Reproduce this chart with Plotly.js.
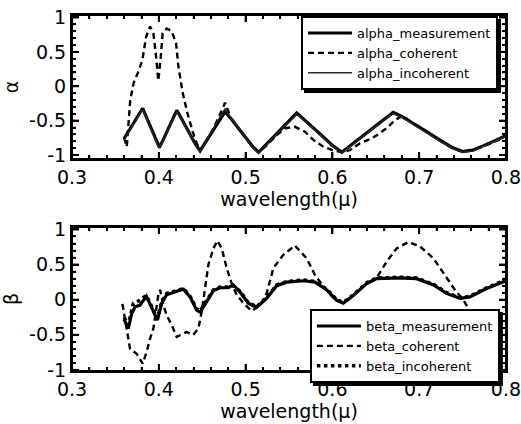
<!DOCTYPE html>
<html>
<head>
<meta charset="utf-8">
<script src="https://cdn.plot.ly/plotly-3.0.1.min.js"></script>
<style>html,body{margin:0;padding:0;background:#fff;}#chart{width:521px;height:424px;}</style>
</head>
<body>
<div id="chart"></div>
<script>
// ---- data ----
const xTickVals = [0.3, 0.4, 0.5, 0.6, 0.7, 0.8];
const xTickText = ['0.3', '0.4', '0.5', '0.6', '0.7', '0.8'];
const yTickVals = [-1, -0.5, 0, 0.5, 1];
const yTickText = ['-1', '-0.5', '0', '0.5', '1'];
const xMinorStep = 0.02;
const yMinorStep = 0.1;

const alphaMeasX = [0.360,0.366,0.372,0.378,0.3814,0.386,0.392,0.397,0.4006,0.405,0.412,0.4206,0.427,0.435,0.442,0.4475,0.452,0.460,0.468,0.4763,0.483,0.492,0.502,0.509,0.515,0.521,0.530,0.540,0.550,0.5588,0.566,0.576,0.588,0.600,0.611,0.622,0.636,0.650,0.662,0.670,0.680,0.695,0.710,0.725,0.738,0.750,0.762,0.775,0.790,0.800];
const alphaMeasY = [-0.76,-0.64,-0.52,-0.38,-0.32,-0.46,-0.64,-0.80,-0.89,-0.78,-0.58,-0.35,-0.49,-0.67,-0.84,-0.94,-0.85,-0.69,-0.53,-0.37,-0.47,-0.61,-0.77,-0.89,-0.96,-0.88,-0.76,-0.63,-0.50,-0.39,-0.47,-0.59,-0.72,-0.86,-0.96,-0.85,-0.71,-0.58,-0.46,-0.38,-0.44,-0.55,-0.67,-0.79,-0.89,-0.95,-0.93,-0.86,-0.78,-0.72];

const alphaCohX = [0.360,0.363,0.365,0.367,0.371,0.376,0.381,0.3853,0.3899,0.3937,0.3968,0.3994,0.4022,0.4044,0.409,0.4148,0.4198,0.4225,0.4275,0.4329,0.439,0.4436,0.4475,0.452,0.460,0.468,0.4763,0.483,0.492,0.502,0.509,0.515,0.5243,0.5358,0.5454,0.5569,0.5684,0.578,0.5896,0.600,0.611,0.6203,0.6318,0.6433,0.6529,0.6644,0.6721,0.6797,0.6855,0.695,0.710,0.725,0.738,0.750,0.762,0.775,0.790,0.800];
const alphaCohY = [-0.75,-0.88,-0.55,-0.20,0.05,0.20,0.38,0.72,0.87,0.77,0.43,0.08,0.43,0.77,0.84,0.80,0.63,0.29,-0.10,-0.39,-0.66,-0.83,-0.93,-0.85,-0.68,-0.48,-0.24,-0.46,-0.62,-0.78,-0.90,-0.96,-0.86,-0.71,-0.61,-0.59,-0.66,-0.78,-0.88,-0.93,-0.96,-0.93,-0.83,-0.77,-0.70,-0.59,-0.49,-0.44,-0.47,-0.56,-0.68,-0.80,-0.90,-0.95,-0.93,-0.87,-0.79,-0.72];

const alphaIncX = [0.360,0.366,0.372,0.378,0.3814,0.386,0.392,0.397,0.4006,0.405,0.412,0.4206,0.427,0.435,0.442,0.4475,0.452,0.460,0.468,0.4763,0.483,0.492,0.502,0.509,0.515,0.521,0.530,0.540,0.550,0.5588,0.566,0.576,0.588,0.600,0.611,0.622,0.636,0.650,0.662,0.670,0.680,0.695,0.710,0.725,0.738,0.750,0.762,0.775,0.790,0.800];
const alphaIncY = [-0.78,-0.65,-0.53,-0.40,-0.34,-0.47,-0.65,-0.81,-0.90,-0.79,-0.59,-0.37,-0.50,-0.68,-0.85,-0.95,-0.86,-0.68,-0.50,-0.33,-0.46,-0.62,-0.78,-0.90,-0.97,-0.89,-0.77,-0.64,-0.52,-0.41,-0.48,-0.60,-0.73,-0.87,-0.97,-0.86,-0.72,-0.59,-0.47,-0.40,-0.45,-0.57,-0.69,-0.81,-0.90,-0.96,-0.94,-0.87,-0.79,-0.73];

const betaMeasX = [0.360,0.3648,0.3687,0.3726,0.378,0.3856,0.392,0.3983,0.4033,0.409,0.4206,0.4283,0.436,0.4436,0.4475,0.4552,0.4629,0.4705,0.4801,0.4859,0.4935,0.5031,0.5127,0.5242,0.5358,0.5473,0.5665,0.580,0.5935,0.605,0.6126,0.6241,0.6395,0.651,0.6779,0.697,0.7166,0.7316,0.747,0.7585,0.7777,0.800];
const betaMeasY = [-0.28,-0.41,-0.20,-0.10,-0.08,0.05,-0.12,-0.29,-0.05,0.07,0.12,0.15,0.04,-0.15,-0.18,-0.03,0.13,0.17,0.17,0.21,0.11,-0.05,-0.11,0.02,0.20,0.25,0.27,0.25,0.14,-0.01,-0.05,0.06,0.23,0.30,0.31,0.30,0.21,0.09,0.02,0.04,0.16,0.27];

const betaCohX = [0.358,0.361,0.3668,0.3745,0.3814,0.386,0.3899,0.3937,0.3968,0.3994,0.4014,0.4052,0.409,0.4148,0.4206,0.4263,0.432,0.4398,0.4456,0.4494,0.4533,0.4571,0.4629,0.4675,0.4725,0.4782,0.484,0.4897,0.4974,0.507,0.5166,0.5243,0.532,0.5435,0.5569,0.5703,0.580,0.5896,0.600,0.6126,0.6241,0.6395,0.651,0.6625,0.674,0.6875,0.7009,0.7163,0.7297,0.7412,0.7508,0.7566,0.765];
const betaCohY = [-0.06,-0.30,-0.70,-0.77,-0.91,-0.74,-0.55,-0.41,-0.17,0.07,0.14,-0.08,-0.22,-0.36,-0.53,-0.50,-0.46,-0.50,-0.41,-0.17,0.16,0.50,0.73,0.84,0.73,0.45,0.23,0.07,-0.05,-0.16,-0.08,0.09,0.45,0.64,0.77,0.59,0.35,0.19,0.04,-0.05,0.06,0.23,0.31,0.54,0.73,0.82,0.76,0.59,0.35,0.14,0.00,-0.12,-0.30];

const betaIncX = [0.360,0.3648,0.3706,0.3764,0.3856,0.392,0.3983,0.4033,0.409,0.4206,0.4283,0.436,0.4436,0.4475,0.4552,0.4629,0.4705,0.4801,0.4859,0.4935,0.5031,0.5127,0.5242,0.5358,0.5473,0.5665,0.580,0.5935,0.605,0.6126,0.6241,0.6395,0.651,0.6779,0.697,0.7166,0.7316,0.747,0.7585,0.7777,0.800];
const betaIncY = [-0.25,-0.36,-0.05,-0.02,0.06,-0.10,-0.27,-0.03,0.09,0.13,0.16,0.05,-0.13,-0.16,-0.02,0.14,0.18,0.18,0.20,0.12,-0.04,-0.10,0.03,0.21,0.26,0.28,0.26,0.15,0.00,-0.04,0.07,0.24,0.31,0.32,0.31,0.22,0.10,0.03,0.05,0.17,0.28];

const alphaNames = ['alpha_measurement', 'alpha_coherent', 'alpha_incoherent'];
const betaNames = ['beta_measurement', 'beta_coherent', 'beta_incoherent'];

const INK = 'black';
// ---- traces ----
const traces = [
  {x: alphaMeasX, y: alphaMeasY, name: alphaNames[0], mode: 'lines', xaxis: 'x', yaxis: 'y', legend: 'legend',
   line: {color: INK, width: 3.2}},
  {x: alphaCohX, y: alphaCohY, name: alphaNames[1], mode: 'lines', xaxis: 'x', yaxis: 'y', legend: 'legend',
   line: {color: INK, width: 2.4, dash: '6px,4px'}},
  {x: alphaIncX, y: alphaIncY, name: alphaNames[2], mode: 'lines', xaxis: 'x', yaxis: 'y', legend: 'legend',
   line: {color: 'rgb(40,40,40)', width: 1.5}},
  {x: betaMeasX, y: betaMeasY, name: betaNames[0], mode: 'lines', xaxis: 'x2', yaxis: 'y2', legend: 'legend2',
   line: {color: INK, width: 3.2}},
  {x: betaCohX, y: betaCohY, name: betaNames[1], mode: 'lines', xaxis: 'x2', yaxis: 'y2', legend: 'legend2',
   line: {color: INK, width: 2.4, dash: '6px,4px'}},
  {x: betaIncX, y: betaIncY, name: betaNames[2], mode: 'lines', xaxis: 'x2', yaxis: 'y2', legend: 'legend2',
   line: {color: INK, width: 3.5, dash: 'dot'}}
];

const FONT = 'DejaVu Sans, Liberation Sans, Arial, sans-serif';
const XRANGE = [0.2999, 0.8001];
function xAxis(anchor) {
  return {
    anchor: anchor, range: XRANGE, tickmode: 'array', tickvals: xTickVals, ticktext: xTickText,
    ticks: 'inside', ticklen: 7, tickwidth: 2, tickcolor: INK,
    minor: {ticks: 'inside', tickmode: 'linear', dtick: xMinorStep, tick0: 0.3, ticklen: 4, tickwidth: 1.5, tickcolor: INK, showgrid: false},
    showline: true, linecolor: INK, linewidth: 2, mirror: 'allticks', ticklabeloverflow: 'allow',
    showgrid: false, zeroline: false,
    tickfont: {family: FONT, size: 19, color: INK},
    title: {text: 'wavelength(μ)', font: {family: FONT, size: 19, color: INK}, standoff: 4}
  };
}
function yAxis(anchor, domain, range, title) {
  return {
    anchor: anchor, domain: domain, range: range, tickmode: 'array', tickvals: yTickVals, ticktext: yTickText,
    ticks: 'inside', ticklen: 7, tickwidth: 2, tickcolor: INK,
    minor: {ticks: 'inside', tickmode: 'linear', dtick: yMinorStep, tick0: 0, ticklen: 4, tickwidth: 1.5, tickcolor: INK, showgrid: false},
    showline: true, linecolor: INK, linewidth: 2, mirror: 'allticks',
    showgrid: false, zeroline: false,
    tickfont: {family: FONT, size: 19, color: INK},
    title: {text: title, font: {family: FONT, size: 19, color: INK}, standoff: 6}
  };
}

const legendBase = {
  bgcolor: 'white', bordercolor: INK, borderwidth: 2,
  font: {family: FONT, size: 13, color: INK},
  xanchor: 'right', yanchor: 'top', tracegroupgap: 0, itemwidth: 44
};

const W = 521, H = 424;
const M = {l: 72, r: 15, t: 15, b: 53};
const TOP_DOMAIN = [0.5955, 1], BOT_DOMAIN = [0, 0.4045];
const plotW = W - M.l - M.r, plotH = H - M.t - M.b;

// frame and tick marks drawn as thin filled bars, placed on the axes' own scales
function bar(opts) {
  return Object.assign({type: 'rect', layer: 'above', fillcolor: INK, line: {width: 0}}, opts);
}
function axisFrameShapes(xa, ya, domain) {
  const shapes = [];
  const subH = (domain[1] - domain[0]) * plotH;
  const xd = xa + ' domain', yd = ya + ' domain';
  // frame edges (2 px)
  shapes.push(bar({xref: xd, yref: yd, xsizemode: 'pixel', xanchor: 0, x0: -1, x1: 1, y0: 0, y1: 1}));
  shapes.push(bar({xref: xd, yref: yd, xsizemode: 'pixel', xanchor: 1, x0: -1, x1: 1, y0: 0, y1: 1}));
  shapes.push(bar({xref: xd, yref: yd, ysizemode: 'pixel', yanchor: 0, y0: -1, y1: 1, x0: 0, x1: 1}));
  shapes.push(bar({xref: xd, yref: yd, ysizemode: 'pixel', yanchor: 1, y0: -1, y1: 1, x0: 0, x1: 1}));
  // x ticks
  const xTicks = [];
  xTickVals.forEach(v => xTicks.push([v, 7, 1]));
  for (let k = 1; k < Math.round((0.8 - 0.3) / xMinorStep); k++) {
    if (k % 5 === 0) continue;
    xTicks.push([+(0.3 + k * xMinorStep).toFixed(4), 4, 0.75]);
  }
  xTicks.forEach(([v, len, hw]) => {
    const f = len / subH;
    shapes.push(bar({xref: xa, yref: yd, xsizemode: 'pixel', xanchor: v, x0: -hw, x1: hw, y0: 0, y1: f}));
    shapes.push(bar({xref: xa, yref: yd, xsizemode: 'pixel', xanchor: v, x0: -hw, x1: hw, y0: 1 - f, y1: 1}));
  });
  // y ticks
  const yTicks = [];
  yTickVals.forEach(v => yTicks.push([v, 7, 1]));
  for (let k = -9; k <= 9; k++) {
    if (k % 5 === 0) continue;
    yTicks.push([+(k * yMinorStep).toFixed(4), 4, 0.75]);
  }
  yTicks.forEach(([v, len, hw]) => {
    const f = len / plotW;
    shapes.push(bar({xref: xd, yref: ya, ysizemode: 'pixel', yanchor: v, y0: -hw, y1: hw, x0: 0, x1: f}));
    shapes.push(bar({xref: xd, yref: ya, ysizemode: 'pixel', yanchor: v, y0: -hw, y1: hw, x0: 1 - f, x1: 1}));
  });
  return shapes;
}

const frameShapes = axisFrameShapes('x', 'y', TOP_DOMAIN).concat(axisFrameShapes('x2', 'y2', BOT_DOMAIN));

const layout = {
  width: W, height: H,
  margin: M,
  paper_bgcolor: 'white', plot_bgcolor: 'white',
  font: {family: FONT, size: 19, color: INK},
  xaxis: xAxis('y'),
  xaxis2: xAxis('y2'),
  yaxis: yAxis('x', TOP_DOMAIN, [-1.058, 1.036], 'α'),
  yaxis2: yAxis('x2', BOT_DOMAIN, [-1.015, 1.035], 'β'),
  legend: Object.assign({}, legendBase, {x: 0.9816, y: 0.997}),
  legend2: Object.assign({}, legendBase, {x: 0.986, y: 0.174}),
  shapes: frameShapes,
  showlegend: true
};

Plotly.newPlot('chart', traces, layout, {displayModeBar: false}).then(function (gd) {
  // drop shadow rectangles under the two legend boxes, sized from the drawn legends
  const fl = gd._fullLayout;
  const shadows = [];
  ['legend', 'legend2'].forEach(function (id) {
    const L = fl[id];
    if (!L || !L._width) return;
    const w = L._width, h = L._effHeight || L._height;
    const right = M.l + L.x * plotW, top = M.t + (1 - L.y) * plotH;
    const off = 3;
    shadows.push(bar({xref: 'paper', yref: 'paper',
      x0: (right - w + off - M.l) / plotW, x1: (right + off - M.l) / plotW,
      y0: 1 - (top + h + off - M.t) / plotH, y1: 1 - (top + off - M.t) / plotH}));
  });
  if (shadows.length) return Plotly.relayout(gd, {shapes: frameShapes.concat(shadows)});
});
</script>
</body>
</html>
